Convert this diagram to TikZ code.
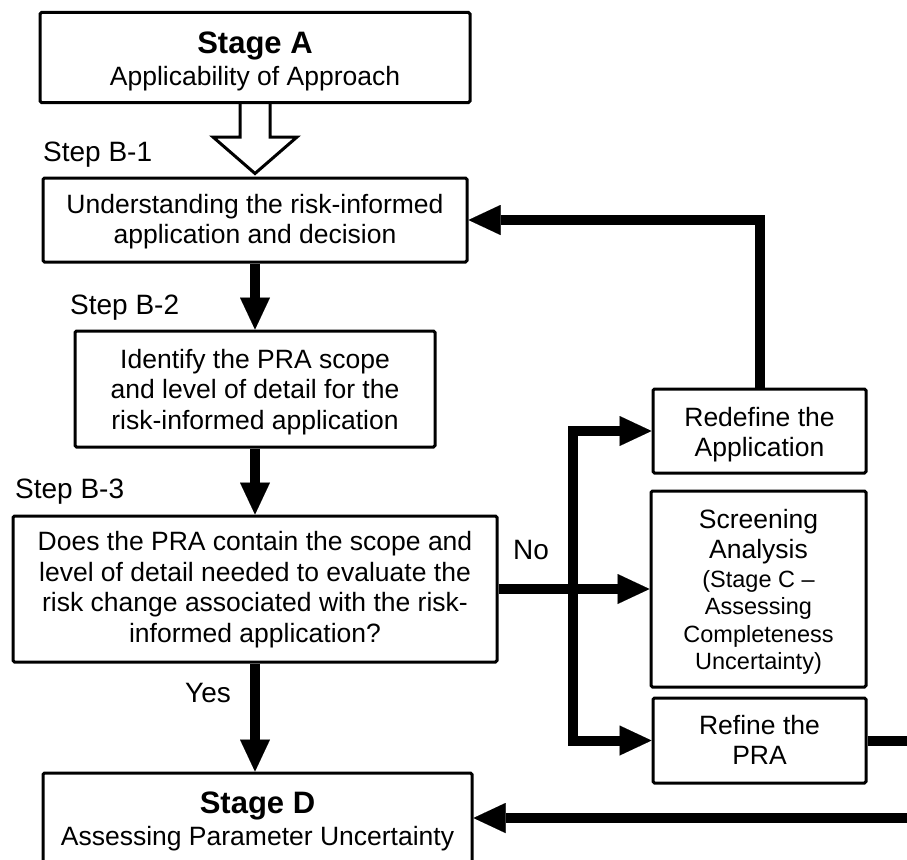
\documentclass[tikz,border=0pt]{standalone}
\usepackage{fontspec}
\setmainfont{Liberation Sans}
\usetikzlibrary{arrows.meta,calc}

% font sizes (1pt = one unit of the picture)
\newcommand\flowboxfont{\fontsize{26.5}{30.5}\selectfont}
\newcommand\flowsmallfont{\fontsize{23.5}{27}\selectfont}
\newcommand\flowtitlefont{\bfseries\fontsize{31}{32}\selectfont}
\newcommand\flowtagfont{\fontsize{28}{30}\selectfont}

\begin{document}
\begin{tikzpicture}[x=1pt,y=-1pt,
  box/.style={draw, line width=3pt, rounded corners=1.5pt, inner sep=0pt,
              align=center, font=\flowboxfont, text depth=0pt},
  tag/.style={anchor=base west, inner sep=0pt, font=\flowtagfont},
  flow/.style={line width=10pt, line join=miter,
               -{Triangle[length=32pt,width=30pt,line width=0.01pt]}},
  hollow/.style={line width=3pt, line join=miter}]

\useasboundingbox (0,0) rectangle (907,859);
\fill[white] (0,0) rectangle (907,859);
\clip (0,0) rectangle (907,859);

% main column (text height places the last baseline of each box)
\node[box, minimum width=430, minimum height=90, text height=55pt] (stageA) at (255,57.5)
  {{\flowtitlefont Stage A}\\[1.5pt] Applicability of Approach};
\node[box, minimum width=424, minimum height=84, text height=47pt] (b1box) at (255,220)
  {Understanding the risk-informed\\ application and decision};
\node[box, minimum width=360, minimum height=116, text height=80pt] (b2box) at (255,389)
  {Identify the PRA scope\\ and level of detail for the\\ risk-informed application};
\node[box, minimum width=484, minimum height=146, text height=106pt] (b3box) at (255,589)
  {Does the PRA contain the scope and\\ level of detail needed to evaluate the\\
   risk change associated with the risk-\\ informed application?};
\node[box, minimum width=429, minimum height=90, text height=54pt] (stageD) at (257.5,818)
  {{\flowtitlefont Stage D}\\[1.5pt] Assessing Parameter Uncertainty};

% right column
\node[box, minimum width=213, minimum height=84, text height=51pt] (redefine) at (759.5,431)
  {Redefine the\\ Application};
\node[box, minimum width=215, minimum height=196, text height=160pt] (screening) at (758.5,589)
  {Screening\\ Analysis\\[-1.5pt] {\flowsmallfont (Stage C –}\\[-4pt]
   {\flowsmallfont Assessing}\\[-2pt] {\flowsmallfont Completeness}\\[-4pt]
   {\flowsmallfont Uncertainty)}};
\node[box, minimum width=213, minimum height=85, text height=48pt] (refine) at (759.5,740.5)
  {Refine the\\ PRA};

% step labels
\node[tag] (tagB1) at (43,161) {Step B-1};
\node[tag] (tagB2) at (70,314) {Step B-2};
\node[tag] (tagB3) at (15,498) {Step B-3};
\node[tag] (yes) at (185,702) {Yes};
\node[tag] (no) at (513,559) {No};

% hollow block arrow from Stage A
\draw[hollow] ($(stageA.south)+(-15,0)$) -- ++(0,33) -- ++(-27,0)
  -- ($(b1box.north)+(0,-3)$) -- ($(stageA.south)+(42,33)$) -- ++(-27,0)
  -- ($(stageA.south)+(15,0)$);

% main flow
\draw[flow] (b1box.south) -- (b2box.north);
\draw[flow] (b2box.south) -- (b3box.north);
\draw[flow] (b3box.south) -- (b3box.south |- stageD.north);

% "No" branch
\coordinate (split) at (573,589);
\draw[flow] (b3box.east) -- (screening.west);
\draw[flow] (split) |- (redefine.west);
\draw[flow] (split) |- (refine.west);

% feedback loops
\draw[flow] (redefine.north) |- (b1box.east);
\coordinate (loopR) at (940,0);
\draw[flow] (refine.east) -- (refine.east -| loopR) |- (stageD.east);

\end{tikzpicture}
\end{document}
